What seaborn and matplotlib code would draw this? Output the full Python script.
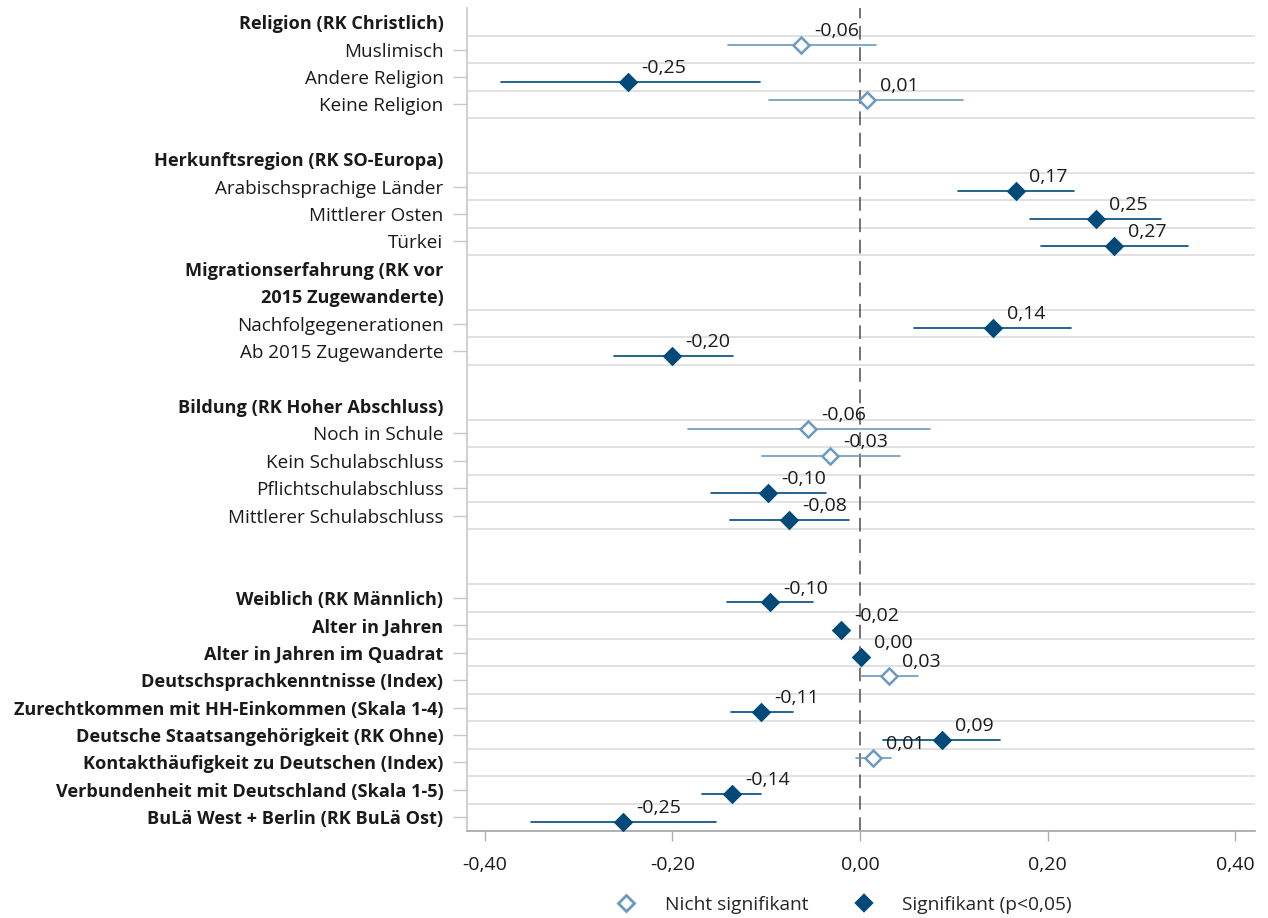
import numpy as np
import pandas as pd
import matplotlib
matplotlib.use('Agg')
import matplotlib.pyplot as plt
from matplotlib.lines import Line2D
from matplotlib.ticker import FuncFormatter
import seaborn as sns

# Zeilen der y-Achse ("" = Leerzeile)
labels = [
    "Religion (RK Christlich)", "Muslimisch", "Andere Religion", "Keine Religion", "",
    "Herkunftsregion (RK SO-Europa)", "Arabischsprachige Länder", "Mittlerer Osten", "Türkei",
    "Migrationserfahrung (RK vor", "2015 Zugewanderte)", "Nachfolgegenerationen",
    "Ab 2015 Zugewanderte", "",
    "Bildung (RK Hoher Abschluss)", "Noch in Schule", "Kein Schulabschluss",
    "Pflichtschulabschluss", "Mittlerer Schulabschluss", "", "",
    "Weiblich (RK Männlich)", "Alter in Jahren", "Alter in Jahren im Quadrat",
    "Deutschsprachkenntnisse (Index)", "Zurechtkommen mit HH-Einkommen (Skala 1-4)",
    "Deutsche Staatsangehörigkeit (RK Ohne)", "Kontakthäufigkeit zu Deutschen (Index)",
    "Verbundenheit mit Deutschland (Skala 1-5)", "BuLä West + Berlin (RK BuLä Ost)",
]
bold_labels = [
    "Religion (RK Christlich)", "Herkunftsregion (RK SO-Europa)",
    "Migrationserfahrung (RK vor", "2015 Zugewanderte)", "Bildung (RK Hoher Abschluss)",
    "Weiblich (RK Männlich)", "Alter in Jahren", "Alter in Jahren im Quadrat",
    "Deutschsprachkenntnisse (Index)", "Zurechtkommen mit HH-Einkommen (Skala 1-4)",
    "Deutsche Staatsangehörigkeit (RK Ohne)", "Kontakthäufigkeit zu Deutschen (Index)",
    "Verbundenheit mit Deutschland (Skala 1-5)", "BuLä West + Berlin (RK BuLä Ost)",
]

# Koeffizienten mit Konfidenzintervall
items = [
    "Muslimisch", "Andere Religion", "Keine Religion",
    "Arabischsprachige Länder", "Mittlerer Osten", "Türkei",
    "Nachfolgegenerationen", "Ab 2015 Zugewanderte",
    "Noch in Schule", "Kein Schulabschluss", "Pflichtschulabschluss", "Mittlerer Schulabschluss",
    "Weiblich (RK Männlich)", "Alter in Jahren", "Alter in Jahren im Quadrat",
    "Deutschsprachkenntnisse (Index)", "Zurechtkommen mit HH-Einkommen (Skala 1-4)",
    "Deutsche Staatsangehörigkeit (RK Ohne)", "Kontakthäufigkeit zu Deutschen (Index)",
    "Verbundenheit mit Deutschland (Skala 1-5)", "BuLä West + Berlin (RK BuLä Ost)",
]
coef = [-0.063, -0.247, 0.007, 0.166, 0.251, 0.271, 0.142, -0.200,
        -0.056, -0.032, -0.098, -0.076, -0.096, -0.020, 0.001,
        0.031, -0.106, 0.087, 0.014, -0.137, -0.253]
ci_low = [-0.141, -0.383, -0.097, 0.104, 0.181, 0.193, 0.057, -0.262,
          -0.183, -0.105, -0.159, -0.139, -0.142, -0.024, -0.001,
          0.001, -0.138, 0.024, -0.004, -0.168, -0.351]
ci_high = [0.017, -0.107, 0.110, 0.228, 0.321, 0.350, 0.225, -0.135,
           0.074, 0.043, -0.036, -0.012, -0.050, -0.016, 0.003,
           0.062, -0.072, 0.149, 0.033, -0.106, -0.154]
signif = [False, True, False, True, True, True, True, True,
          False, False, True, True, True, True, True,
          False, True, True, False, True, True]

NS = "Nicht signifikant"
SIG = "Signifikant (p<0,05)"
DARK = "#004a7a"
LIGHT = "#6c9abe"
TXT = "#1a1a1a"

records = []
for name, lo, c, hi, s in zip(items, ci_low, coef, ci_high, signif):
    for v in (lo, c, hi):
        records.append({"Zeile": name, "Wert": v, "Gruppe": SIG if s else NS})
df = pd.DataFrame(records)

keys = [lab if lab else f"_leer{i}" for i, lab in enumerate(labels)]

sns.set_theme(style="white")
plt.rcParams["font.family"] = ["Open Sans", "DejaVu Sans"]

fig = plt.figure(figsize=(12.68, 9.18), dpi=100)
ax = fig.add_axes([0.3683, 0.0948, 0.6215, 0.896])

sns.pointplot(data=df, x="Wert", y="Zeile", hue="Gruppe", order=keys,
              hue_order=[NS, SIG], palette={NS: LIGHT, SIG: DARK},
              estimator="median", errorbar=("pi", 100), dodge=0.33,
              markers="D", linestyle="none", markersize=8.6, markeredgewidth=1.8,
              err_kws={"linewidth": 1.2, "linestyle": "-"}, legend=False, ax=ax)

# Marker nach vorne, nicht signifikante hohl, Werte beschriften
for line in ax.lines:
    if line.get_marker() == "D":
        line.set_zorder(4)
        if matplotlib.colors.same_color(line.get_color(), LIGHT):
            line.set_markerfacecolor("white")
        for x, y in zip(line.get_xdata(), line.get_ydata()):
            if np.isnan(x):
                continue
            ax.annotate(f"{x:.2f}".replace(".", ","), (x, y), xytext=(9.5, 10),
                        textcoords="offset points", ha="left", va="center",
                        fontsize=14, color=TXT, zorder=5)

# Gitterlinien um die Datenzeilen
data_rows = [keys.index(n) for n in items]
for r in sorted(set([r - 0.5 for r in data_rows] + [r + 0.5 for r in data_rows])):
    ax.axhline(r, color="#dcdcdc", lw=1.2, zorder=0)

ax.axvline(0, color="#4d4d4d", lw=1.1, ls=(0, (9, 5)), zorder=1)

ax.set_xlim(-0.419, 0.421)
ax.set_ylim(len(keys) - 0.5, -0.5)
ax.set_xticks([-0.4, -0.2, 0, 0.2, 0.4])
ax.xaxis.set_major_formatter(FuncFormatter(lambda v, p: f"{v:.2f}".replace(".", ",")))
ax.set_xlabel("")
ax.set_ylabel("")

ax.set_yticks(range(len(keys)))
ax.set_yticklabels(labels)
ax.tick_params(axis="y", left=True, length=10, width=1, color="#c8c8c8", pad=7,
               labelsize=13.6, labelcolor=TXT)
ax.tick_params(axis="x", bottom=True, length=7, width=1, color="#b0b0b0", pad=11,
               labelsize=14, labelcolor=TXT)
for i, t in enumerate(ax.get_yticklabels()):
    if labels[i] in bold_labels:
        t.set_fontweight("bold")
        t.set_fontsize(13.1)
for i, tick in enumerate(ax.yaxis.get_major_ticks()):
    if i not in data_rows:
        tick.tick1line.set_visible(False)

for side in ["top", "right"]:
    ax.spines[side].set_visible(False)
ax.spines["left"].set_color("#c8c8c8")
ax.spines["left"].set_linewidth(1.2)
ax.spines["bottom"].set_color("#a6a6a6")
ax.spines["bottom"].set_linewidth(1.2)

handles = [
    Line2D([], [], marker="D", linestyle="none", markersize=8.6, markeredgewidth=2.0,
           markerfacecolor="white", markeredgecolor=LIGHT),
    Line2D([], [], marker="D", linestyle="none", markersize=8.6, markeredgewidth=1.7,
           markerfacecolor=DARK, markeredgecolor=DARK),
]
fig.legend(handles, [NS, SIG], loc="center", bbox_to_anchor=(0.662, 0.014), ncol=2,
           frameon=False, fontsize=13.8, columnspacing=1.9, handletextpad=1.0)

fig.savefig("out.png", dpi=100)
plt.close(fig)
